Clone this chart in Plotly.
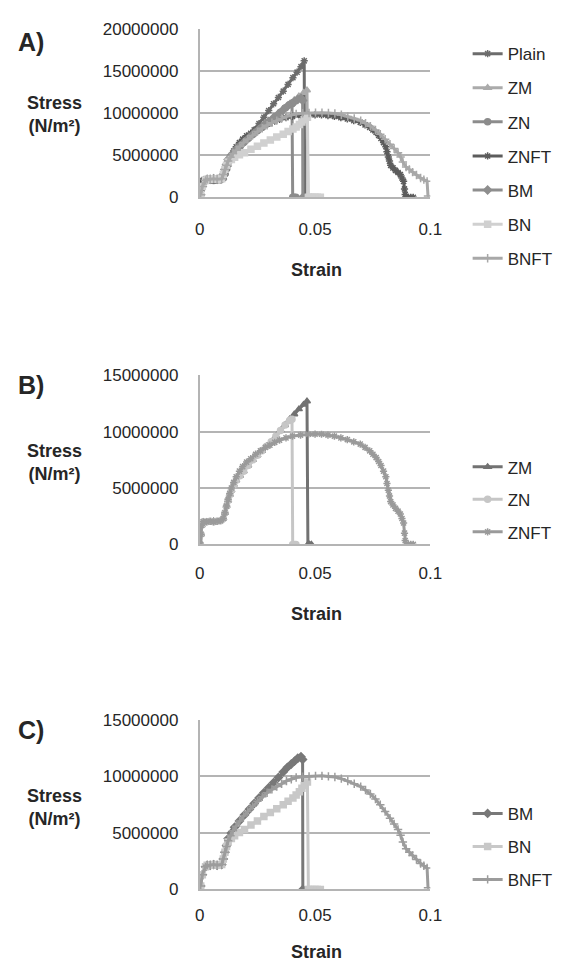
import plotly.graph_objects as go

# ---------------- data (strain, stress in MPa -> converted to N/m2) ----------------
plain_strain = [0.0, 0.0008, 0.0018, 0.003, 0.0045, 0.006, 0.0075, 0.0088, 0.0095, 0.0109, 0.0123, 0.014,
                0.0158, 0.0176, 0.0194, 0.0215, 0.0236, 0.0257, 0.0278, 0.0299, 0.032, 0.0341, 0.0362,
                0.0383, 0.0404, 0.0422, 0.0439, 0.0453, 0.0455]
plain_mpa = [1.2, 1.8, 2.1, 2.15, 2.2, 2.2, 2.2, 2.25, 2.4, 3.3, 4.1, 4.8,
             5.4, 6.0, 6.6, 7.3, 8.0, 8.75, 9.5, 10.3, 11.1, 11.85, 12.6,
             13.4, 14.2, 14.85, 15.5, 16.2, 0.0]

zm_strain = [0.0003, 0.0005, 0.0008, 0.0015, 0.003, 0.0045, 0.006, 0.0075, 0.009, 0.0102, 0.0109, 0.0116,
             0.0123, 0.013, 0.0137, 0.0147, 0.0158, 0.0174, 0.019, 0.021, 0.023, 0.025, 0.027, 0.029,
             0.031, 0.033, 0.035, 0.037, 0.039, 0.041, 0.043, 0.045, 0.0465, 0.0469, 0.0476, 0.0484]
zm_mpa = [0.0, 0.9, 1.7, 2.0, 2.0, 2.0, 2.05, 2.0, 2.1, 2.3, 2.8, 3.4,
          3.9, 4.4, 4.8, 5.3, 5.7, 6.1, 6.5, 7.0, 7.5, 7.9, 8.3, 8.7,
          9.1, 9.6, 10.1, 10.6, 11.1, 11.55, 12.0, 12.4, 12.7, 0.0, 0.0, 0.0]

zn_strain = [0.0003, 0.0005, 0.0008, 0.0015, 0.003, 0.0045, 0.006, 0.0075, 0.009, 0.0102, 0.0109, 0.0116,
             0.0123, 0.013, 0.0137, 0.0147, 0.0158, 0.0174, 0.019, 0.021, 0.023, 0.025, 0.027, 0.029,
             0.031, 0.033, 0.035, 0.037, 0.039, 0.040, 0.0403, 0.041, 0.0417]
zn_mpa = [0.0, 0.9, 1.7, 2.0, 2.0, 2.05, 2.0, 2.05, 2.1, 2.3, 2.8, 3.4,
          3.9, 4.4, 4.8, 5.3, 5.7, 6.1, 6.5, 7.0, 7.5, 7.9, 8.3, 8.7,
          9.1, 9.6, 10.1, 10.6, 11.0, 11.1, 0.0, 0.0, 0.0]

znft_strain = [0.0003, 0.0005, 0.0008, 0.0015, 0.003, 0.0045, 0.006, 0.0075, 0.009, 0.0102, 0.0109, 0.0116,
               0.0123, 0.013, 0.0137, 0.0147, 0.0158, 0.0172, 0.0186, 0.0203, 0.0221, 0.0242, 0.0263,
               0.0284, 0.0304, 0.0325, 0.0346, 0.0374, 0.0402, 0.0437, 0.0472, 0.05, 0.0528, 0.0556,
               0.0584, 0.0612, 0.064, 0.0668, 0.0696, 0.0717, 0.0737, 0.0751, 0.0765, 0.0776, 0.0786,
               0.0797, 0.0807, 0.0812, 0.0818, 0.0823, 0.0828, 0.0838, 0.0849, 0.086, 0.087, 0.0877,
               0.0884, 0.0888, 0.0891, 0.0895, 0.0905, 0.0915, 0.0926]
znft_mpa = [0.0, 0.9, 1.7, 2.0, 2.0, 2.05, 2.0, 2.05, 2.1, 2.3, 2.8, 3.4,
            4.0, 4.5, 5.0, 5.5, 6.0, 6.5, 6.9, 7.3, 7.6, 8.0, 8.3,
            8.6, 8.8, 9.05, 9.25, 9.45, 9.6, 9.7, 9.77, 9.78, 9.77, 9.7,
            9.6, 9.45, 9.3, 9.1, 8.9, 8.6, 8.3, 8.0, 7.7, 7.35, 7.0,
            6.5, 6.0, 5.4, 4.8, 4.3, 3.8, 3.5, 3.2, 2.95, 2.7, 2.3,
            1.9, 1.0, 0.35, 0.0, 0.0, 0.0, 0.0]

bm_strain = [0.0004, 0.0011, 0.0025, 0.0032, 0.0045, 0.006, 0.0075, 0.0095, 0.0102, 0.0109, 0.0116, 0.0123,
             0.0137, 0.0151, 0.0172, 0.0194, 0.0215, 0.0236, 0.0257, 0.0278, 0.0299, 0.032, 0.0341,
             0.0362, 0.038, 0.0397, 0.0411, 0.0425, 0.0439, 0.0446, 0.0447]
bm_mpa = [0.3, 1.3, 2.0, 2.15, 2.15, 2.2, 2.15, 2.2, 2.7, 3.3, 3.9, 4.5,
          5.0, 5.5, 6.05, 6.6, 7.1, 7.6, 8.1, 8.55, 9.0, 9.45, 9.9,
          10.4, 10.8, 11.1, 11.35, 11.6, 11.75, 11.5, 0.0]

bn_strain = [0.0004, 0.0011, 0.0025, 0.0032, 0.0045, 0.006, 0.0075, 0.0095, 0.0102, 0.0109, 0.0116, 0.0123,
             0.0137, 0.0151, 0.0172, 0.0194, 0.0222, 0.025, 0.0278, 0.0306, 0.0334, 0.0362, 0.0383,
             0.0404, 0.0418, 0.0432, 0.0443, 0.0453, 0.0467, 0.0471, 0.048, 0.049, 0.05, 0.051, 0.0523]
bn_mpa = [0.3, 1.3, 2.0, 2.15, 2.15, 2.2, 2.15, 2.2, 2.7, 3.3, 3.8, 4.2,
          4.5, 4.75, 5.05, 5.3, 5.7, 6.05, 6.45, 6.8, 7.15, 7.5, 7.8,
          8.1, 8.35, 8.65, 8.95, 9.2, 9.5, 0.0, 0.0, 0.0, 0.0, 0.0, 0.0]

bnft_strain = [0.0004, 0.0011, 0.0025, 0.0032, 0.0045, 0.006, 0.0075, 0.0095, 0.0102, 0.0109, 0.0116, 0.0123,
               0.0133, 0.0144, 0.0158, 0.0173, 0.019, 0.0208, 0.0229, 0.025, 0.0271, 0.0292, 0.0313,
               0.0334, 0.0355, 0.0376, 0.0397, 0.0418, 0.0446, 0.0474, 0.0502, 0.053, 0.0558, 0.0586,
               0.0614, 0.0642, 0.067, 0.0698, 0.0719, 0.074, 0.0762, 0.0783, 0.0804, 0.0825, 0.0843,
               0.086, 0.0871, 0.0881, 0.0895, 0.0909, 0.0923, 0.094, 0.0958, 0.0972, 0.0986, 0.099]
bnft_mpa = [0.3, 1.3, 2.0, 2.15, 2.15, 2.2, 2.15, 2.2, 2.7, 3.3, 3.8, 4.3,
            4.75, 5.2, 5.6, 6.05, 6.5, 6.9, 7.35, 7.8, 8.2, 8.55, 8.85,
            9.1, 9.35, 9.6, 9.75, 9.9, 9.97, 10.0, 10.05, 10.05, 10.0, 9.95,
            9.8, 9.6, 9.35, 9.1, 8.8, 8.45, 8.0, 7.5, 6.9, 6.3, 5.8,
            5.3, 4.8, 4.2, 3.6, 3.3, 3.0, 2.65, 2.3, 2.1, 1.9, 0.15]

series = {
    "Plain": (plain_strain, plain_mpa),
    "ZM": (zm_strain, zm_mpa),
    "ZN": (zn_strain, zn_mpa),
    "ZNFT": (znft_strain, znft_mpa),
    "BM": (bm_strain, bm_mpa),
    "BN": (bn_strain, bn_mpa),
    "BNFT": (bnft_strain, bnft_mpa),
}

symbols = {"Plain": "asterisk-open", "ZM": "triangle-up", "ZN": "circle", "ZNFT": "asterisk-open",
           "BM": "diamond", "BN": "square", "BNFT": "cross-thin-open"}

panels = [
    ("", "legend", ["Plain", "ZM", "ZN", "ZNFT", "BM", "BN", "BNFT"],
     ["#6c6c6c", "#ababab", "#8c8c8c", "#5c5c5c", "#8e8e8e", "#d0d0d0", "#a8a8a8"]),
    ("2", "legend2", ["ZM", "ZN", "ZNFT"], ["#727272", "#c6c6c6", "#9a9a9a"]),
    ("3", "legend3", ["BM", "BN", "BNFT"], ["#787878", "#c8c8c8", "#9c9c9c"]),
]

fig = go.Figure()
for suffix, leg, names, cols in panels:
    for name, col in zip(names, cols):
        sx, sy = series[name]
        fig.add_trace(go.Scatter(
            x=sx, y=[v * 1e6 for v in sy], name=name, mode="lines+markers",
            line=dict(color=col, width=3),
            marker=dict(symbol=symbols[name], size=6, color=col, line=dict(color=col, width=1.5)),
            xaxis="x" + suffix, yaxis="y" + suffix, legend=leg, legendgroup=leg + name,
            showlegend=True,
        ))

# page has an 8px body margin, so the figure is 8px smaller and all page positions shift by 8
OFF = 8
W, H = 563 - OFF, 973 - OFF
FONT = "Liberation Sans, Arial, sans-serif"
TXT = "#262626"
GRID = "#b4b4b4"


def px_x(v):
    return (v - OFF) / W


def px_y(v):
    return 1 - (v - OFF) / H


xdom = [px_x(200.7), px_x(438.5)]
ydoms = [[px_y(192), px_y(20)], [px_y(546), px_y(373.5)], [px_y(898), px_y(725)]]
ymax = [20e6, 15e6, 15e6]
xstand = [15, 12, 9]

layout = dict(
    width=W, height=H, margin=dict(l=0, r=0, t=0, b=0),
    paper_bgcolor="white", plot_bgcolor="white",
    font=dict(family=FONT, size=17, color=TXT),
)
for i, suffix in enumerate(["", "2", "3"]):
    xa = "xaxis" + suffix
    ya = "yaxis" + suffix
    layout[xa] = dict(domain=xdom, range=[0, 0.1], dtick=0.05, showgrid=False, zeroline=False,
                      showline=True, linecolor=GRID, linewidth=2, ticks="",
                      ticklabelstandoff=xstand[i], anchor="y" + suffix,
                      tickfont=dict(size=17, color=TXT))
    layout[ya] = dict(domain=ydoms[i], range=[0, ymax[i]], dtick=5e6, tickformat="d",
                      showgrid=True, gridcolor=GRID, gridwidth=2, zeroline=False,
                      showline=True, linecolor=GRID, linewidth=2, ticks="",
                      ticklabelstandoff=16, anchor="x" + suffix,
                      tickfont=dict(size=17, color=TXT))

legend_common = dict(font=dict(size=17, color=TXT), bgcolor="rgba(0,0,0,0)",
                     xanchor="left", yanchor="top", itemclick=False, itemdoubleclick=False)
layout["legend"] = dict(legend_common, x=px_x(477), y=px_y(27.5), tracegroupgap=9)
layout["legend2"] = dict(legend_common, x=px_x(477), y=px_y(449), tracegroupgap=7.4)
layout["legend3"] = dict(legend_common, x=px_x(477), y=px_y(802.5), tracegroupgap=7.9)

fig.update_layout(**layout)

panel_letters = ["A)", "B)", "C)"]
letter_y = [33, 383, 735]
stress_y = [107.5, 462, 814]
strain_y = [266, 617, 962]
for i in range(3):
    fig.add_annotation(text="<b>" + panel_letters[i] + "</b>", x=px_x(27), y=px_y(letter_y[i]),
                       xref="paper", yref="paper", xanchor="center", yanchor="middle",
                       showarrow=False, font=dict(size=25, color=TXT))
    fig.add_annotation(text="<b>Stress</b><br><b>(N/m²)</b>", x=px_x(51), y=px_y(stress_y[i]),
                       xref="paper", yref="paper", xanchor="center", yanchor="middle",
                       showarrow=False, font=dict(size=18, color=TXT))
    fig.add_annotation(text="<b>Strain</b>", x=px_x(321), y=px_y(strain_y[i]),
                       xref="paper", yref="paper", xanchor="center", yanchor="middle",
                       showarrow=False, font=dict(size=18, color=TXT))

fig.write_html("out.html")
